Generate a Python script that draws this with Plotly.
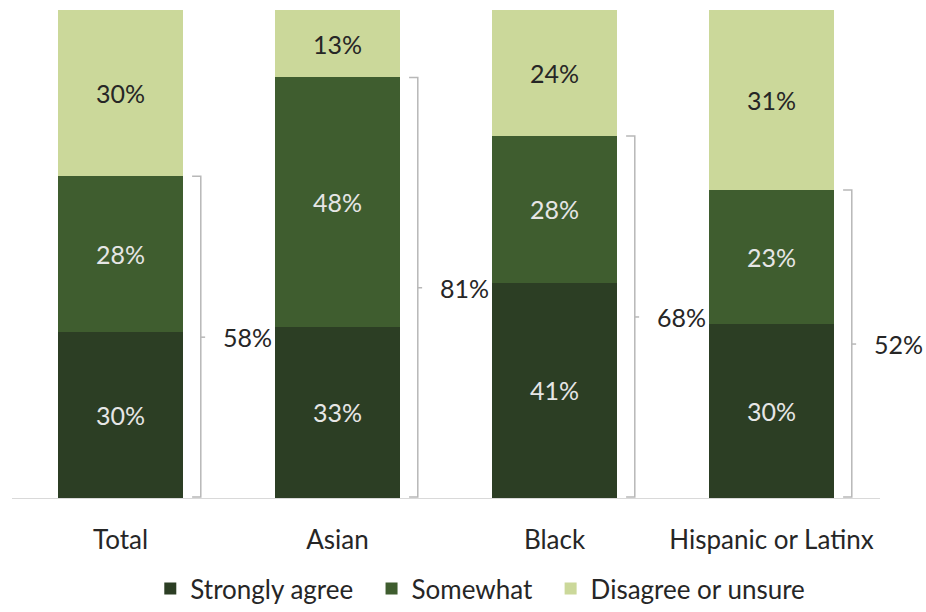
import plotly.graph_objects as go

# Survey responses by group (percent of respondents)
groups = ["Total", "Asian", "Black", "Hispanic or Latinx"]
strongly_agree = [30, 33, 41, 30]
somewhat = [28, 48, 28, 23]
disagree_unsure = [30, 13, 24, 31]
net_agree = [58, 81, 68, 52]

series = [
    ("Strongly agree", strongly_agree, "#2c3e24", "#e6e6e6"),
    ("Somewhat", somewhat, "#3f5d2f", "#e6e6e6"),
    ("Disagree or unsure", disagree_unsure, "#cbd89a", "#262626"),
]

FONT = "Lato"
xs = list(range(len(groups)))
X_RANGE = [-0.5, len(groups) - 0.5]

fig = go.Figure()
for name, vals, color, tcolor in series:
    fig.add_trace(go.Bar(
        x=xs, y=vals, name=name + "\u00a0\u00a0",
        marker=dict(color=color, line=dict(width=0)),
        text=[f"{v}%" for v in vals],
        textposition="inside", insidetextanchor="middle", textangle=0,
        textfont=dict(family=FONT, size=25, color=tcolor),
        hoverinfo="skip",
    ))

# Brackets spanning the two "agree" segments (positions on the normalized 0-100 scale)
bx, by = [], []
for i in xs:
    total = strongly_agree[i] + somewhat[i] + disagree_unsure[i]
    top = (strongly_agree[i] + somewhat[i]) / total * 100
    v = i + 0.37
    bx += [v - 0.04, v, v, v - 0.04, None, v, v + 0.02, None]
    by += [top, top, 0.2, 0.2, None, top / 2, top / 2, None]
    # label placed in x-domain units so it may sit beyond the last category
    lx = (i + 0.585 - X_RANGE[0]) / (X_RANGE[1] - X_RANGE[0])
    fig.add_annotation(
        x=lx, y=top / 2, xref="x domain", yref="y",
        text=f"{net_agree[i]}%", showarrow=False,
        xanchor="center", yanchor="middle",
        font=dict(family=FONT, size=25, color="#262626"),
    )

fig.add_trace(go.Scatter(
    x=bx, y=by, mode="lines", line=dict(color="#b8b8b8", width=1.5),
    showlegend=False, hoverinfo="skip",
))

fig.update_layout(
    width=926, height=612,
    margin=dict(l=12, r=46, t=10, b=114),
    barmode="stack", barnorm="percent", bargap=0.424,
    plot_bgcolor="white", paper_bgcolor="white",
    font=dict(family=FONT, color="#262626"),
    xaxis=dict(
        range=X_RANGE, tickvals=xs, ticktext=groups,
        showline=True, linecolor="#d9d9d9", linewidth=1,
        showgrid=False, zeroline=False,
        ticks="outside", ticklen=19, tickcolor="rgba(0,0,0,0)",
        tickfont=dict(family=FONT, size=26, color="#262626"),
    ),
    yaxis=dict(range=[0, 100.0001], visible=False),
    legend=dict(
        orientation="h", xref="paper", yref="container",
        x=0.547, xanchor="center", y=0.0, yanchor="bottom",
        font=dict(family=FONT, size=26, color="#262626"),
        traceorder="normal",
    ),
)

fig.write_html("out.html")
